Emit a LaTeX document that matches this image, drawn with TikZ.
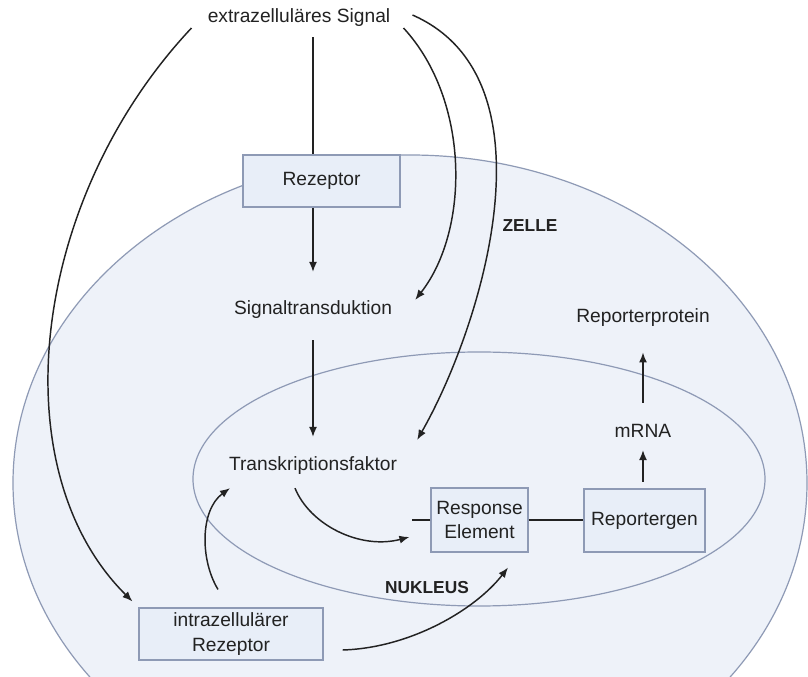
\documentclass[tikz,border=0pt]{standalone}
\usepackage{fontspec}
\setmainfont{Liberation Sans}
\usetikzlibrary{arrows.meta}
\definecolor{cellfill}{HTML}{EEF2F9}
\definecolor{edge}{HTML}{8E9AB5}
\definecolor{boxfill}{HTML}{E8EEF8}
\definecolor{ink}{HTML}{222222}
\begin{document}
\begin{tikzpicture}[x=0.75pt,y=-0.75pt,
  lbl/.style={font=\fontsize{14.4}{18.5}\selectfont, text=ink, inner sep=0pt, text height=10.3pt, text depth=3pt},
  bx/.style={draw=edge, fill=boxfill, line width=0.9pt, font=\fontsize{14.4}{18.5}\selectfont, text=ink, align=center, inner sep=0pt},
  arr/.style={draw=ink, line width=1.1pt, -{Latex[length=7.5pt,width=6pt]}},
  ln/.style={draw=ink, line width=1.1pt},
  ttl/.style={font=\bfseries\fontsize{13}{16}\selectfont, text=ink, inner sep=0pt}]
\clip (0,0) rectangle (808,677);
\fill[white] (0,0) rectangle (808,677);
% cell and nucleus
\filldraw[fill=cellfill, draw=edge, line width=0.9pt] (410,483) ellipse [x radius=397, y radius=328];
\draw[edge, line width=0.9pt] (479,479) ellipse [x radius=286, y radius=127];
% nodes
\node[lbl] (sig) at (299,18) {extrazelluläres Signal};
\node[bx, minimum width=117.75pt, minimum height=39pt] (rez) at (321.5,181) {Rezeptor};
\node[lbl] (st) at (313,310) {Signaltransduktion};
\node[lbl] (tf) at (313,466) {Transkriptionsfaktor};
\node[bx, minimum width=72.75pt, minimum height=48pt] (re) at (479.5,520) {Response\\Element};
\node[bx, minimum width=90.75pt, minimum height=47.25pt] (rg) at (644.5,520.5) {Reportergen};
\node[lbl] (mrna) at (643,433) {mRNA};
\node[lbl] (rp) at (643,318) {Reporterprotein};
\node[bx, minimum width=138pt, minimum height=39pt] (ir) at (231,634) {intrazellulärer\\Rezeptor};
\node[ttl] (zelle) at (530,226) {ZELLE};
\node[ttl] (nuk) at (427,588) {NUKLEUS};
% straight connectors
\draw[ln, shorten <=7.5pt] (sig.south -| st.north) -- (rez.north -| st.north);
\draw[arr, shorten >=21.75pt] (rez.south -| st.north) -- (st.north);
\draw[arr, shorten <=16pt, shorten >=15pt] (st.south) -- (tf.north);
\draw[arr, shorten <=5pt, shorten >=6pt] (rg.north -| mrna.south) -- (mrna.south);
\draw[arr, shorten <=16pt, shorten >=19pt] (mrna.north) -- (mrna.north |- rp.south);
\draw[ln] (re.east) -- (re.east -| rg.west);
\draw[ln] (re.west) -- ([xshift=-13.5pt]re.west);
% curved connectors
\draw[arr] ([shift={(-18,13)}]tf.south) .. controls (310,525) and (360,550) .. ([shift={(-21,17)}]re.west);
\draw[arr] ([shift={(-13,-18)}]ir.north) .. controls (200,560) and (200,510) .. ([shift={(-83,13)}]tf.south);
\draw[arr] ([shift={(19,16)}]ir.east) .. controls (410,648) and (475,610) .. ([shift={(28.5,15)}]re.south);
\draw[arr] ([shift={(-16,10)}]sig.west) .. controls (30,200) and (0,470) .. ([shift={(-6,-6)}]ir.north west);
\draw[arr] ([shift={(13,10)}]sig.east) .. controls (470,100) and (470,230) .. ([shift={(23,-1)}]st.north east);
\draw[arr] ([shift={(22,-3)}]sig.east) .. controls (560,80) and (480,330) .. ([shift={(20,-17)}]tf.north east);
\end{tikzpicture}
\end{document}
